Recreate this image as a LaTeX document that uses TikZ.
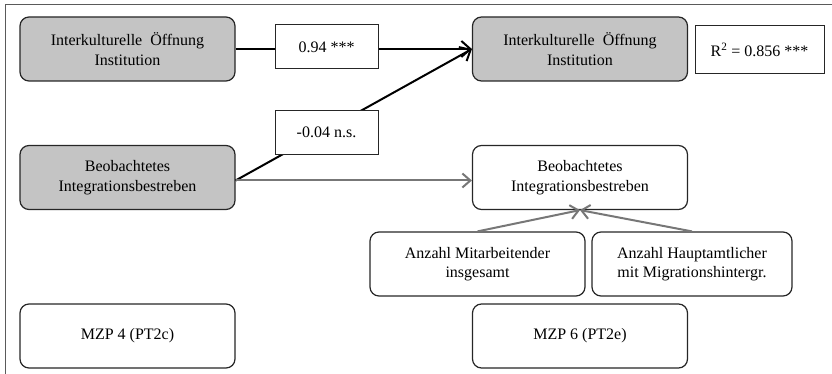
\documentclass[tikz,border=0pt]{standalone}
\usepackage{fontspec}
\setmainfont{Liberation Serif}
\usepackage{xcolor}
\usepackage{tikz}
\usetikzlibrary{arrows.meta}

\definecolor{boxgray}{HTML}{C4C4C4}
\definecolor{linegray}{HTML}{777777}
\definecolor{framegray}{HTML}{5A5A5A}

\tikzset{
  base/.style={draw=black!85, line width=1.2pt, rounded corners=9pt, align=center,
    font=\fontsize{16}{19.5}\selectfont, inner sep=0pt},
  latent/.style={base, fill=boxgray, minimum width=215pt, minimum height=64pt},
  plain/.style={base, fill=white, minimum width=215pt, minimum height=64pt},
  coef/.style={draw=black!85, line width=1pt, fill=white, minimum width=103pt,
    minimum height=44pt, font=\fontsize{16}{19.5}\selectfont, inner sep=0pt},
  path/.style={line width=2pt, black, -{Straight Barb[length=9pt, width=16pt, line width=2pt]}},
  gpath/.style={line width=2pt, linegray, -{Straight Barb[length=8pt, width=14pt, line width=2pt]}}
}

\begin{document}
\begin{tikzpicture}[x=1pt, y=-1pt]
    \useasboundingbox (0,0) rectangle (832,374);
    % Frame
    \draw[framegray, line width=1pt] (5,374) -- (5,5) -- (832,5);
    % MZP 4
    \node[latent] (intA) at (127.5,49) {Interkulturelle \ Öffnung\\Institution};
    \node[latent] (beoA) at (127.5,177.5) {Beobachtetes\\Integrationsbestreben};
    \node[plain] (mzpA) at (127.5,336) {MZP 4 (PT2c)};
    % MZP 6
    \node[latent] (intB) at (580,49) {Interkulturelle \ Öffnung\\Institution};
    \node[plain] (beoB) at (580,177.5) {Beobachtetes\\Integrationsbestreben};
    \node[base, minimum width=215pt, minimum height=64pt] (anzM) at (477.5,264) {Anzahl Mitarbeitender\\insgesamt};
    \node[base, minimum width=200pt, minimum height=64pt] (anzH) at (692,264) {Anzahl Hauptamtlicher\\mit Migrationshintergr.};
    \node[plain] (mzpB) at (580,336) {MZP 6 (PT2e)};
    \node[coef, minimum width=129pt, minimum height=48pt] (rsq) at (759.5,50) {R\textsuperscript{2} = 0.856 ***};
    % Paths
    \draw[path] (intA.east) -- (intB.west);
    \draw[path] ([yshift=-3pt]beoA.east) -- (intB.west);
    \draw[gpath] ([yshift=-3pt]beoA.east) -- ([yshift=-3pt]beoB.west);
    \draw[gpath] (anzM.north) -- (beoB.south);
    \draw[gpath] (anzH.north) -- (beoB.south);
    % Coefficients
    \node[coef] (cA) at (326.5,47) {0.94 ***};
    \node[coef] (cB) at (326.5,132.5) {-0.04 n.s.};
\end{tikzpicture}
\end{document}
